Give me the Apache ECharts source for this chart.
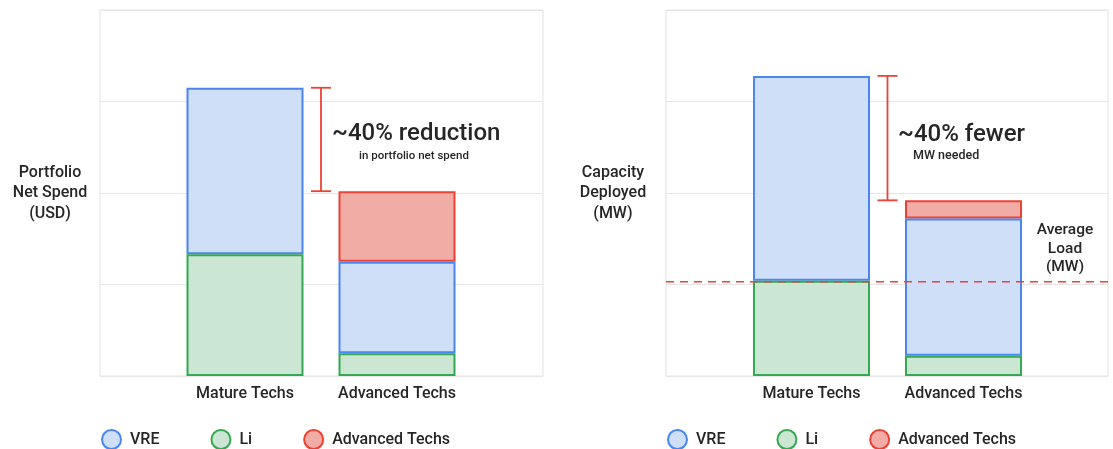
<!DOCTYPE html>
<html>
<head>
<meta charset="utf-8">
<script src="https://cdn.jsdelivr.net/npm/echarts@6/dist/echarts.min.js"></script>
<style>
html,body{margin:0;padding:0;background:#fff;}
#c{width:1113px;height:449px;}
</style>
</head>
<body>
<div id="c"></div>
<script>
// ---- data ----
var categories = ['Mature Techs', 'Advanced Techs'];
var legendNames = ['VRE', 'Li', 'Advanced Techs'];
// Left chart: Portfolio Net Spend (relative units)
var spendLi  = [1.33, 0.25];
var spendVRE = [1.82, 1.00];
var spendAdv = [null, 0.77];
// Right chart: Capacity Deployed (relative units)
var capLi  = [1.04, 0.22];
var capVRE = [2.24, 1.50];
var capAdv = [null, 0.20];
var avgLoad = 1.03;
var yTicks = [0, 1, 2, 3, 4];

var FONT = 'Roboto, "Noto Sans", sans-serif';
var TXT = '#262626';
var colors = {
  VRE: {fill: '#cfdff7', border: '#4a86f0'},
  Li:  {fill: '#cbe6d3', border: '#34a853'},
  Adv: {fill: '#f2aca6', border: '#ea4335'}
};
function total(a, b, c, i) { return (a[i] || 0) + (b[i] || 0) + (c[i] || 0); }

var chart = echarts.init(document.getElementById('c'), null, {renderer: 'canvas'});

var frameGrids = [
  {left: 100, width: 443, top: 10, height: 366, show: true, borderColor: '#e2e2e2', borderWidth: 1, backgroundColor: 'transparent'},
  {left: 666, width: 442, top: 10, height: 366, show: true, borderColor: '#e2e2e2', borderWidth: 1, backgroundColor: 'transparent'}
];
var barGrids = [
  {left: 169, width: 304, top: 10, height: 366},
  {left: 735.5, width: 304, top: 10, height: 366}
];

var xAxes = [], yAxes = [];
[0, 1].forEach(function (k) {
  xAxes.push({gridIndex: k, type: 'value', min: 0, max: 1, show: false});
  yAxes.push({gridIndex: k, type: 'value', min: yTicks[0], max: yTicks[yTicks.length - 1], interval: 1,
    axisLine: {show: false}, axisTick: {show: false}, axisLabel: {show: false},
    splitLine: {show: true, lineStyle: {color: '#e6e6e6', width: 1}}});
});
[0, 1].forEach(function (k) {
  xAxes.push({gridIndex: k + 2, type: 'category', data: categories,
    axisLine: {show: false}, axisTick: {show: false},
    axisLabel: {interval: 0, hideOverlap: false, color: TXT, fontSize: 16, fontWeight: 500, fontFamily: FONT, margin: 10}});
  yAxes.push({gridIndex: k + 2, type: 'value', min: yTicks[0], max: yTicks[yTicks.length - 1], interval: 1, show: false,
    splitLine: {show: false}});
});

function barSeries(name, data, col, axisIdx, stack, z) {
  return {
    name: name, type: 'bar', stack: stack, data: data, z: z,
    xAxisIndex: axisIdx, yAxisIndex: axisIdx, barWidth: 117,
    itemStyle: {color: col.fill, borderColor: col.border, borderWidth: 2},
    emphasis: {disabled: true}
  };
}

function errorBar(lo, hi, axisIdx) {
  return {
    type: 'custom', xAxisIndex: axisIdx, yAxisIndex: axisIdx, silent: true, z: 10,
    data: [[lo, hi]],
    renderItem: function (params, api) {
      var low = api.value(0), high = api.value(1);
      var x0 = api.coord([0, high])[0], x1 = api.coord([1, high])[0];
      var x = (x0 + x1) / 2;
      var yTop = api.coord([0, high])[1], yBot = api.coord([0, low])[1];
      var st = {stroke: '#ea4335', lineWidth: 1.8};
      return {type: 'group', children: [
        {type: 'line', shape: {x1: x, y1: yTop, x2: x, y2: yBot}, style: st},
        {type: 'line', shape: {x1: x - 10, y1: yTop, x2: x + 10, y2: yTop}, style: st},
        {type: 'line', shape: {x1: x - 10, y1: yBot, x2: x + 10, y2: yBot}, style: st}
      ]};
    }
  };
}

var series = [
  barSeries('Li', spendLi, colors.Li, 2, 'a', 5),
  barSeries('VRE', spendVRE, colors.VRE, 2, 'a', 4),
  barSeries('Advanced Techs', spendAdv, colors.Adv, 2, 'a', 3),
  barSeries('Li', capLi, colors.Li, 3, 'b', 5),
  barSeries('VRE', capVRE, colors.VRE, 3, 'b', 4),
  barSeries('Advanced Techs', capAdv, colors.Adv, 3, 'b', 3),
  errorBar(total(spendLi, spendVRE, spendAdv, 1), total(spendLi, spendVRE, spendAdv, 0), 2),
  errorBar(total(capLi, capVRE, capAdv, 1), total(capLi, capVRE, capAdv, 0), 3),
  {
    name: 'Average Load', type: 'line', xAxisIndex: 1, yAxisIndex: 1, silent: true, z: 12,
    symbol: 'none', data: [[0, avgLoad], [1, avgLoad]],
    lineStyle: {color: '#ea4335', width: 1.6, type: [8, 6]}
  }
];

function legendAt(left) {
  return {
    left: left, top: 424, data: legendNames, icon: 'circle', itemWidth: 19, itemHeight: 19,
    itemGap: 51, selectedMode: false,
    textStyle: {color: TXT, fontSize: 16, fontWeight: 500, fontFamily: FONT, padding: [0, 0, 0, 4]}
  };
}

function txt(x, y, text, size, align, lineHeight, weight) {
  return {type: 'text', x: x, y: y, silent: true,
    style: {text: text, fill: TXT, font: (weight || 500) + ' ' + size + 'px ' + FONT,
      textAlign: align, textVerticalAlign: 'middle', lineHeight: lineHeight || size * 1.2}};
}

var graphics = [
  txt(50, 193, 'Portfolio\nNet Spend\n(USD)', 16, 'center', 20.5),
  txt(613, 193, 'Capacity\nDeployed\n(MW)', 16, 'center', 20.5),
  txt(332, 134, '~40% reduction', 24, 'left'),
  txt(359, 156, 'in portfolio net spend', 11.5, 'left'),
  txt(898, 135, '~40% fewer', 24, 'left'),
  txt(913, 156, 'MW needed', 12.5, 'left'),
  txt(1065, 249, 'Average\nLoad\n(MW)', 15.5, 'center', 18.5)
];

chart.setOption({
  animation: false,
  backgroundColor: '#fff',
  grid: frameGrids.concat(barGrids),
  xAxis: xAxes,
  yAxis: yAxes,
  legend: [legendAt(96), legendAt(662)],
  series: series,
  graphic: graphics
});
</script>
</body>
</html>
